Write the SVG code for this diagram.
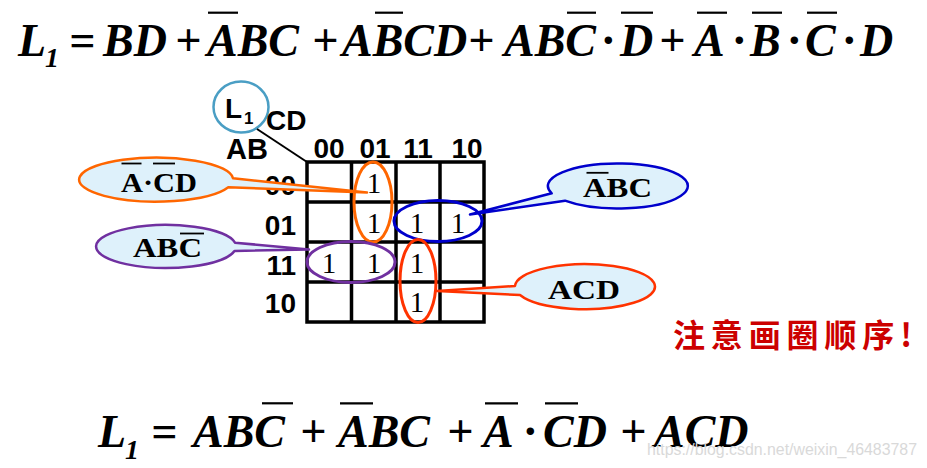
<svg xmlns="http://www.w3.org/2000/svg" width="927" height="468" viewBox="0 0 927 468">
<style>
.f{font-family:"Liberation Serif","Times New Roman",serif;font-weight:bold;font-style:italic;font-size:46px;fill:#000}
.sub{font-family:"Liberation Serif","Times New Roman",serif;font-weight:bold;font-style:italic;font-size:28px;fill:#000}
.ob{stroke:#000;stroke-width:2.2;fill:none}
.obs{stroke:#000;stroke-width:1.8;fill:none}
.hd{font-family:"Liberation Sans",Arial,sans-serif;font-weight:bold;font-size:28px;fill:#000}
.one{font-family:"Liberation Serif","Times New Roman",serif;font-size:29px;fill:#000;text-anchor:middle}
.lb{font-family:"Liberation Serif","Times New Roman",serif;font-weight:bold;font-size:28px;fill:#000}
.co{fill:#DEF1FB;stroke-width:2.5;stroke-linejoin:round}
.loop{fill:none;stroke-width:3}
.grid{fill:none;stroke:#000;stroke-width:3.5}
</style>
<rect width="927" height="468" fill="#fff"/>

<g id="formula-top">
<text class="f" x="18" y="56">L</text>
<text class="sub" x="45" y="67">1</text>
<text class="f" x="69" y="56">=</text>
<text class="f" x="103" y="56">BD</text>
<text class="f" x="175" y="56">+</text>
<text class="f" x="207" y="56">ABC</text>
<line class="ob" x1="208" y1="12.7" x2="238" y2="12.7"/>
<text class="f" x="312" y="56">+</text>
<text class="f" x="342" y="56">ABCD</text>
<line class="ob" x1="375" y1="12.7" x2="403" y2="12.7"/>
<text class="f" x="468" y="56">+</text>
<text class="f" x="504" y="56">ABC</text>
<line class="ob" x1="567" y1="12.7" x2="596" y2="12.7"/>
<text class="f" x="608" y="56" text-anchor="middle">·</text>
<text class="f" x="620" y="56">D</text>
<line class="ob" x1="621" y1="12.7" x2="653" y2="12.7"/>
<text class="f" x="659" y="56">+</text>
<text class="f" x="694" y="56">A</text>
<line class="ob" x1="697" y1="12.7" x2="727" y2="12.7"/>
<text class="f" x="739" y="56" text-anchor="middle">·</text>
<text class="f" x="750" y="56">B</text>
<line class="ob" x1="752" y1="12.7" x2="782" y2="12.7"/>
<text class="f" x="794" y="56" text-anchor="middle">·</text>
<text class="f" x="805" y="56">C</text>
<line class="ob" x1="807" y1="12.7" x2="837" y2="12.7"/>
<text class="f" x="849" y="56" text-anchor="middle">·</text>
<text class="f" x="860" y="56">D</text>
</g>

<g id="kmap-labels">
<ellipse cx="241" cy="107" rx="27.5" ry="25.5" fill="none" stroke="#4A9EC4" stroke-width="2.5"/>
<text class="hd" x="225" y="117.5">L</text>
<text class="hd" x="244" y="124" style="font-size:17px">1</text>
<text class="hd" x="266" y="129.5">CD</text>
<text class="hd" x="226" y="158.5" style="font-size:29px">AB</text>
<line x1="257" y1="129" x2="307" y2="162" stroke="#000" stroke-width="2"/>
<text class="hd" x="329" y="157.5" text-anchor="middle">00</text>
<text class="hd" x="375" y="157.5" text-anchor="middle">01</text>
<text class="hd" x="418" y="157.5" text-anchor="middle">11</text>
<text class="hd" x="467" y="157.5" text-anchor="middle">10</text>
<text class="hd" x="296" y="195" text-anchor="end">00</text>
<text class="hd" x="296" y="235" text-anchor="end">01</text>
<text class="hd" x="296" y="275" text-anchor="end">11</text>
<text class="hd" x="296" y="313" text-anchor="end">10</text>
</g>

<g id="kmap-grid">
<rect class="grid" x="307" y="162" width="177" height="160"/>
<line class="grid" x1="351.5" y1="162" x2="351.5" y2="322"/>
<line class="grid" x1="396" y1="162" x2="396" y2="322"/>
<line class="grid" x1="440" y1="162" x2="440" y2="322"/>
<line class="grid" x1="307" y1="202" x2="484" y2="202"/>
<line class="grid" x1="307" y1="242" x2="484" y2="242"/>
<line class="grid" x1="307" y1="282" x2="484" y2="282"/>
<text class="one" x="374" y="193">1</text>
<text class="one" x="374" y="233">1</text>
<text class="one" x="417" y="233">1</text>
<text class="one" x="458" y="233">1</text>
<text class="one" x="329" y="273">1</text>
<text class="one" x="374" y="273">1</text>
<text class="one" x="417" y="273">1</text>
<text class="one" x="417" y="312">1</text>
</g>

<g id="connectors">
<ellipse class="loop" cx="373" cy="202" rx="19" ry="40" stroke="#FF6600"/>
<ellipse class="loop" cx="438" cy="221" rx="44" ry="20.5" stroke="#0000CC"/>
<ellipse class="loop" cx="351" cy="262" rx="44" ry="20.5" stroke="#7030A0"/>
<ellipse class="loop" cx="418" cy="281" rx="18" ry="41.5" stroke="#FF3300"/>
</g>

<g id="callout-orange">
<path class="co" stroke="#FF6600" d="M 233,178.3 A 77 22 0 1 0 228.3,187.3 L 367,192.5 Z"/>
<text class="lb" x="121" y="192" textLength="76" lengthAdjust="spacingAndGlyphs">A·CD</text>
<line class="obs" x1="121.5" y1="163.5" x2="141.5" y2="163.5"/>
<line class="obs" x1="153" y1="163.5" x2="175" y2="163.5"/>
</g>

<g id="callout-purple">
<path class="co" stroke="#7030A0" d="M 235,242.7 A 70 21.5 0 1 0 234.5,251 L 309,249.5 Z"/>
<text class="lb" x="133" y="256.5" textLength="69" lengthAdjust="spacingAndGlyphs">ABC</text>
<line class="obs" x1="180" y1="233.5" x2="204" y2="233.5"/>
</g>

<g id="callout-blue">
<path class="co" stroke="#0000CC" d="M 551.7,193.3 A 70 22.5 0 1 1 565,200.7 L 470,214.5 Z"/>
<text class="lb" x="583" y="196.5" textLength="69" lengthAdjust="spacingAndGlyphs">ABC</text>
<line class="obs" x1="586.5" y1="172.8" x2="608.5" y2="172.8"/>
</g>

<g id="callout-red">
<path class="co" stroke="#FF3300" d="M 515,286 A 70 22.5 0 1 1 520,295 L 437,291 Z"/>
<text class="lb" x="548" y="298.5" textLength="72" lengthAdjust="spacingAndGlyphs">ACD</text>
</g>

<g id="note">
<text x="673" y="347" textLength="239" lengthAdjust="spacing" style="font-family:'Noto Sans CJK SC',sans-serif;font-weight:bold;font-size:32px;fill:#CC0000">注意画圈顺序!</text>
</g>

<g id="formula-bottom">
<text class="f" x="98" y="447">L</text>
<text class="sub" x="125" y="459">1</text>
<text class="f" x="151" y="447">=</text>
<text class="f" x="193" y="447">ABC</text>
<line class="ob" x1="262" y1="403.3" x2="293" y2="403.3"/>
<text class="f" x="300" y="447">+</text>
<text class="f" x="338" y="447">ABC</text>
<line class="ob" x1="340" y1="403.3" x2="373" y2="403.3"/>
<text class="f" x="447" y="447">+</text>
<text class="f" x="483" y="447">A</text>
<line class="ob" x1="485" y1="403.3" x2="518" y2="403.3"/>
<text class="f" x="530" y="447" text-anchor="middle">·</text>
<text class="f" x="543" y="447">CD</text>
<line class="ob" x1="545" y1="403.3" x2="578" y2="403.3"/>
<text class="f" x="620" y="447">+</text>
<text class="f" x="654" y="447">ACD</text>
</g>

<text x="647" y="455" style="font-family:'Liberation Sans',Arial,sans-serif;font-size:16px;fill:#D9D9D9" textLength="270" lengthAdjust="spacingAndGlyphs">https://blog.csdn.net/weixin_46483787</text>
</svg>
